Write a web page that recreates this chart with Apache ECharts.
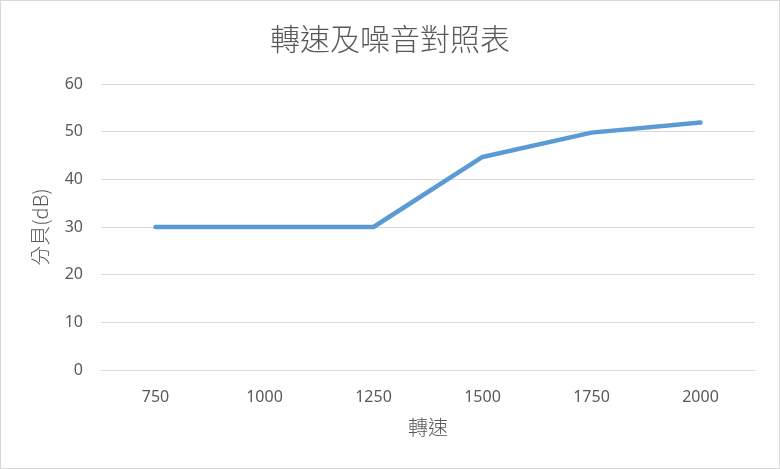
<!DOCTYPE html>
<html><head><meta charset="utf-8">
<script src="https://cdn.jsdelivr.net/npm/echarts@6/dist/echarts.min.js"></script>
<style>html,body{margin:0;padding:0;background:#fff}#c{width:780px;height:469px;box-sizing:border-box;border:1px solid #d9d9d9}</style>
</head><body><div id="c"></div>
<script>
const titleText = '轉速及噪音對照表';
const xName = '轉速';
const yName = '分貝(dB)';
const categories = ['750','1000','1250','1500','1750','2000'];
const noise = [30, 30, 30, 44.7, 49.8, 51.9];
const chart = echarts.init(document.getElementById('c'));
const font = '"Noto Sans CJK TC", "Noto Sans", sans-serif';
const numFont = '"Noto Sans", "Open Sans", sans-serif';
chart.setOption({
  animation: false,
  title: { text: titleText, left: 'center', top: 18,
    textStyle: { fontFamily: font, fontSize: 30, fontWeight: 300, color: '#595959' } },
  grid: { left: 100, right: 24, top: 83, bottom: 98, containLabel: false },
  xAxis: { type: 'category', data: categories, boundaryGap: true,
    name: xName, nameLocation: 'middle', nameGap: 47,
    nameTextStyle: { fontFamily: font, fontSize: 20, fontWeight: 300, color: '#595959' },
    axisLine: { show: true, lineStyle: { color: '#d9d9d9' } }, axisTick: { show: false },
    axisLabel: { fontFamily: numFont, fontSize: 16, color: '#595959', margin: 19 } },
  yAxis: { type: 'value', min: 0, max: 60, interval: 10,
    name: yName, nameLocation: 'middle', nameGap: 51,
    nameTextStyle: { fontFamily: font, fontSize: 20, fontWeight: 300, color: '#595959' },
    axisLine: { show: false }, axisTick: { show: false },
    axisLabel: { fontFamily: numFont, fontSize: 16, color: '#595959', margin: 18 },
    splitLine: { lineStyle: { color: '#d9d9d9', width: 1 } } },
  series: [{ type: 'line', data: noise, symbol: 'none',
    lineStyle: { color: '#5b9bd5', width: 4.5, cap: 'round', join: 'round' } }]
});
</script></body></html>
